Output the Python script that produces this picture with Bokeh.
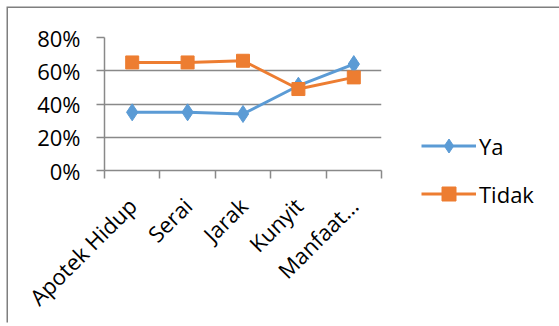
from math import pi
from bokeh.plotting import figure
from bokeh.models import (FixedTicker, NumeralTickFormatter, Range1d, Legend, LegendItem)
from bokeh.embed import file_html
from bokeh.resources import INLINE

categories = ["Apotek Hidup", "Serai", "Jarak", "Kunyit", "Manfaat\u2026"]
ya = [0.35, 0.35, 0.34, 0.51, 0.64]
tidak = [0.65, 0.65, 0.66, 0.49, 0.56]
y_ticks = [0, 0.2, 0.4, 0.6, 0.8]

BLUE = "#5B9BD5"
ORANGE = "#ED7D31"
GRAY = "#898989"
FONT = "Open Sans"

xs = [i + 0.5 for i in range(len(categories))]

OFF = 8  # canvas offset
p = figure(frame_width=277, height=316, output_backend="svg", toolbar_location=None,
           x_range=Range1d(0, len(categories)), y_range=Range1d(0, 0.8),
           min_border_left=104 - OFF, min_border_right=170, min_border_top=37 - OFF,
           min_border_bottom=154)
p.styles = {"position": "absolute", "top": f"{OFF}px", "left": f"{OFF}px",
            "box-shadow": "-1.5px -1.5px 0px 0px #7f7f7f"}
p.outline_line_color = None
p.background_fill_color = "white"
p.border_fill_color = "white"

# y axis
p.yaxis.ticker = FixedTicker(ticks=y_ticks)
p.yaxis.formatter = NumeralTickFormatter(format="0%")
p.yaxis.axis_line_color = GRAY
p.yaxis.axis_line_width = 1.5
p.yaxis.major_tick_line_color = GRAY
p.yaxis.major_tick_line_width = 1.5
p.yaxis.major_tick_out = 8
p.yaxis.major_tick_in = 0
p.yaxis.minor_tick_line_color = None
p.yaxis.major_label_standoff = 16
p.yaxis.major_label_text_font = FONT
p.yaxis.major_label_text_font_size = "22px"
p.yaxis.major_label_text_color = "black"

# x axis
p.xaxis.ticker = FixedTicker(ticks=xs, minor_ticks=list(range(len(categories) + 1)))
p.xaxis.major_label_overrides = {x: c for x, c in zip(xs, categories)}
p.xaxis.major_label_orientation = pi / 4
p.xaxis.axis_line_color = GRAY
p.xaxis.axis_line_width = 1.5
p.xaxis.major_tick_line_color = None
p.xaxis.minor_tick_line_color = GRAY
p.xaxis.minor_tick_line_width = 1.5
p.xaxis.minor_tick_out = 8
p.xaxis.minor_tick_in = 0
p.xaxis.major_label_standoff = 23
p.xaxis.major_label_text_font = FONT
p.xaxis.major_label_text_font_size = "22px"
p.xaxis.major_label_text_color = "black"

p.xgrid.grid_line_color = None
p.ygrid.ticker = FixedTicker(ticks=y_ticks)
p.ygrid.grid_line_color = GRAY
p.ygrid.grid_line_width = 1.5

l1 = p.line(xs, ya, line_color=BLUE, line_width=3)
m1 = p.scatter(xs, ya, marker="diamond", size=17, fill_color=BLUE, line_color=BLUE)
l2 = p.line(xs, tidak, line_color=ORANGE, line_width=3)
m2 = p.scatter(xs, tidak, marker="square", size=13, fill_color=ORANGE, line_color=ORANGE)

legend = Legend(items=[LegendItem(label="Ya", renderers=[l1, m1]),
                       LegendItem(label="Tidak", renderers=[l2, m2])],
                location=(40, -41), orientation="vertical",
                glyph_width=55, glyph_height=35, label_height=20, spacing=13,
                padding=0, margin=0, border_line_color=None, background_fill_alpha=0,
                label_standoff=3, label_text_font=FONT, label_text_font_size="22px",
                label_text_color="black")
p.add_layout(legend, "right")

open("out.html", "w").write(file_html(p, INLINE))
